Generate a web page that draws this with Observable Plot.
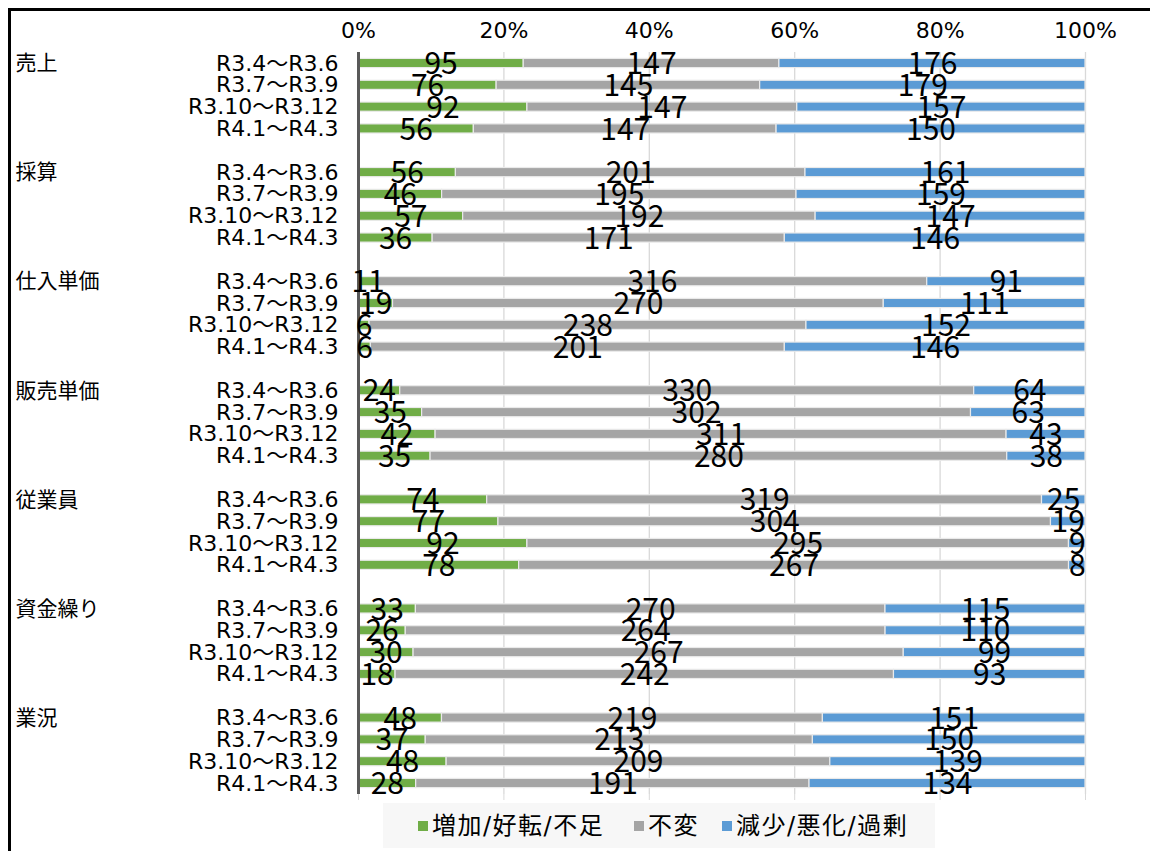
<!DOCTYPE html>
<html><head><meta charset="utf-8">
<script src="https://cdn.jsdelivr.net/npm/d3@7"></script>
<script src="https://cdn.jsdelivr.net/npm/@observablehq/plot@0.6"></script>
<style>
body{margin:0;background:#fff;font-family:"DejaVu Sans","Noto Sans CJK JP",sans-serif;}
#wrap{position:relative;width:1150px;height:851px;overflow:hidden;}
#frame{position:absolute;left:8px;top:8px;width:1200px;height:900px;border-top:3px solid #000;border-left:3px solid #000;pointer-events:none;}
#chart{position:absolute;left:0;top:0;}
#legend{position:absolute;left:383px;top:803px;width:552px;height:45px;background:#f7f7f7;font-size:24px;letter-spacing:1.5px;color:#000;font-family:"DejaVu Sans","Noto Sans CJK JP",sans-serif;}
#legend .item{position:absolute;top:50%;transform:translateY(-50%);white-space:nowrap;line-height:1;}
#legend span.sw{display:inline-block;width:10px;height:10px;margin-right:4px;vertical-align:middle;position:relative;top:-1px;}
</style></head>
<body><div id="wrap"><div id="chart"></div><div id="legend"></div><div id="frame"></div></div>
<script>
const groups = ["売上","採算","仕入単価","販売単価","従業員","資金繰り","業況"];
const periods = ["R3.4～R3.6","R3.7～R3.9","R3.10～R3.12","R4.1～R4.3"];
const categories = ["増加/好転/不足","不変","減少/悪化/過剰"];
const colors = ["#70ad47","#a5a5a5","#5b9bd5"];
// values per group, in period order
const increase = [95,76,92,56, 56,46,57,36, 11,19,6,6, 24,35,42,35, 74,77,92,78, 33,26,30,18, 48,37,48,28];
const unchanged = [147,145,147,147, 201,195,192,171, 316,270,238,201, 330,302,311,280, 319,304,295,267, 270,264,267,242, 219,213,209,191];
const decrease = [176,179,157,150, 161,159,147,146, 91,111,152,146, 64,63,43,38, 25,19,9,8, 115,110,99,93, 151,150,139,134];
const xTicks = [0,0.2,0.4,0.6,0.8,1];

const series = [increase, unchanged, decrease];
const data = [];
const domain = [];
groups.forEach((g, gi) => {
  if (gi > 0) domain.push("sp" + gi);
  periods.forEach((p, pi) => {
    const row = g + "|" + p;
    domain.push(row);
    categories.forEach((c, ci) => {
      data.push({row, group: g, period: p, cat: c, value: series[ci][gi * 4 + pi]});
    });
  });
});
const groupLabels = groups.map(g => ({row: g + "|" + periods[0], group: g}));

const chart = Plot.plot({
  width: 1150,
  height: 851,
  marginLeft: 358,
  marginRight: 65,
  marginTop: 52,
  marginBottom: 57,
  style: {fontFamily: '"DejaVu Sans","Noto Sans CJK JP",sans-serif', background: "transparent", color: "#000"},
  x: {domain: [0, 1]},
  y: {domain, paddingInner: 0.58, paddingOuter: 0.294, align: 0.5, round: false},
  color: {domain: categories, range: colors},
  marks: [
    Plot.gridX(xTicks, {stroke: "#d9d9d9", strokeOpacity: 1, strokeWidth: 1.3}),
    Plot.axisX(xTicks, {anchor: "top", tickSize: 0, tickPadding: 15, tickFormat: d3.format(".0%"), fontSize: 22, label: null}),
    Plot.axisX(xTicks, {anchor: "bottom", tickSize: 6, tickFormat: () => "", stroke: "#d9d9d9", label: null}),
    Plot.axisY({tickSize: 0, tickPadding: 20, fontSize: 22, tickFormat: d => d.startsWith("sp") ? "" : d.split("|")[1], label: null}),
    Plot.barX(data, Plot.stackX({x: "value", y: "row", fill: "cat", offset: "normalize", order: categories, stroke: "#eaeaea", strokeWidth: 1.2})),
    Plot.ruleX([0], {stroke: "#595959", strokeWidth: 3}),
    Plot.textX(data, Plot.stackX({x: "value", y: "row", z: "cat", text: "value", offset: "normalize", order: categories, fontSize: 30, fontFamily: '"Noto Sans CJK JP","Noto Sans",sans-serif', fill: "#000", dy: 1})),
    Plot.text(groupLabels, {y: "row", text: "group", frameAnchor: "left", dx: -343, textAnchor: "start", fontSize: 21, fontFamily: '"Noto Sans CJK JP",sans-serif', fill: "#000"})
  ]
});
document.getElementById("chart").appendChild(chart);

const legend = document.getElementById("legend");
const legendOffsets = [35, 251, 339];
categories.forEach((c, i) => {
  const item = document.createElement("div");
  item.className = "item";
  item.style.left = legendOffsets[i] + "px";
  item.innerHTML = `<span class="sw" style="background:${colors[i]}"></span>${c}`;
  legend.appendChild(item);
});
</script></body></html>
